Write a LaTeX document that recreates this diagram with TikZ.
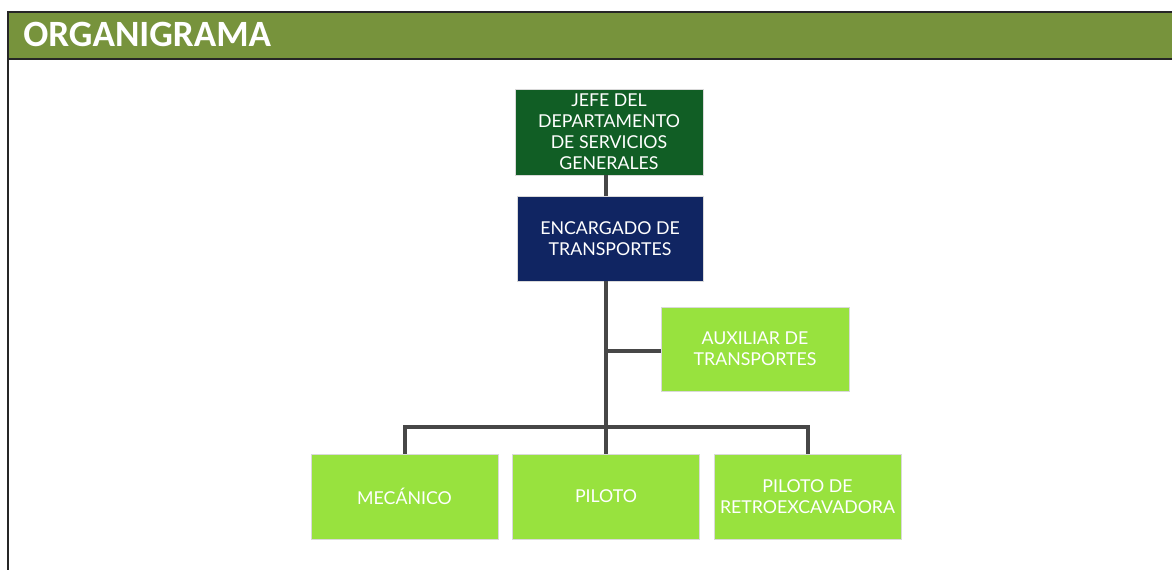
\documentclass[tikz,border=0pt]{standalone}
\usepackage{fontspec}
\setmainfont{Lato}
\newfontfamily\titlefont{Carlito}
\definecolor{headgreen}{HTML}{77933C}
\definecolor{jefegreen}{HTML}{115E25}
\definecolor{navy}{HTML}{102562}
\definecolor{lime}{HTML}{98E23E}
\definecolor{conn}{HTML}{474747}
\tikzset{
  orgbox/.style={draw=black!15, line width=0.6pt, minimum width=187*0.75pt, minimum height=85*0.75pt, inner sep=0pt, align=center, text=white, font=\fontsize{13.3}{15.8}\selectfont},
  conline/.style={draw=conn, line width=3pt}
}
\begin{document}
\begin{tikzpicture}[x=0.75pt,y=-0.75pt]
\useasboundingbox (0,0) rectangle (1172,569);
\fill[white] (0,0) rectangle (1172,569);
% header
\fill[headgreen] (8,12) rectangle (1180,59);
\draw[black!85, line width=1.5pt] (1180,12) -- (8,12) -- (8,580);
\draw[black!85, line width=1.5pt] (8,59) -- (1180,59);
\node[anchor=west, text=white, font=\titlefont\bfseries\fontsize{27.8}{32}\selectfont, inner sep=0pt] (title) at (23,34.5) {ORGANIGRAMA};
% boxes
\node[orgbox, fill=jefegreen, minimum width=188*0.75pt, minimum height=86*0.75pt] (jefe) at (609,132) {JEFE DEL\\DEPARTAMENTO\\DE SERVICIOS\\GENERALES};
\node[orgbox, fill=navy, minimum width=186*0.75pt] (enc) at (610,238.5) {ENCARGADO DE\\TRANSPORTES};
\node[orgbox, fill=lime, minimum width=188*0.75pt, minimum height=84*0.75pt] (aux) at (755,349) {AUXILIAR DE\\TRANSPORTES};
\node[orgbox, fill=lime] (mec) at (404.5,496.5) {MECÁNICO};
\node[orgbox, fill=lime] (pil) at (606,496.5) {PILOTO};
\node[orgbox, fill=lime] (ret) at (807.5,496.5) {PILOTO DE\\RETROEXCAVADORA};
% connectors
\coordinate (bar) at (606,427);
\coordinate (auxj) at (606,351);
\draw[conline] (jefe.south -| bar) -- (enc.north -| bar);
\draw[conline] (enc.south -| bar) -- (pil.north -| bar);
\draw[conline] (auxj) -- (aux.west |- auxj);
\draw[conline] (mec.north) -- (mec.north |- bar) -- (ret.north |- bar) -- (ret.north);
\end{tikzpicture}
\end{document}
